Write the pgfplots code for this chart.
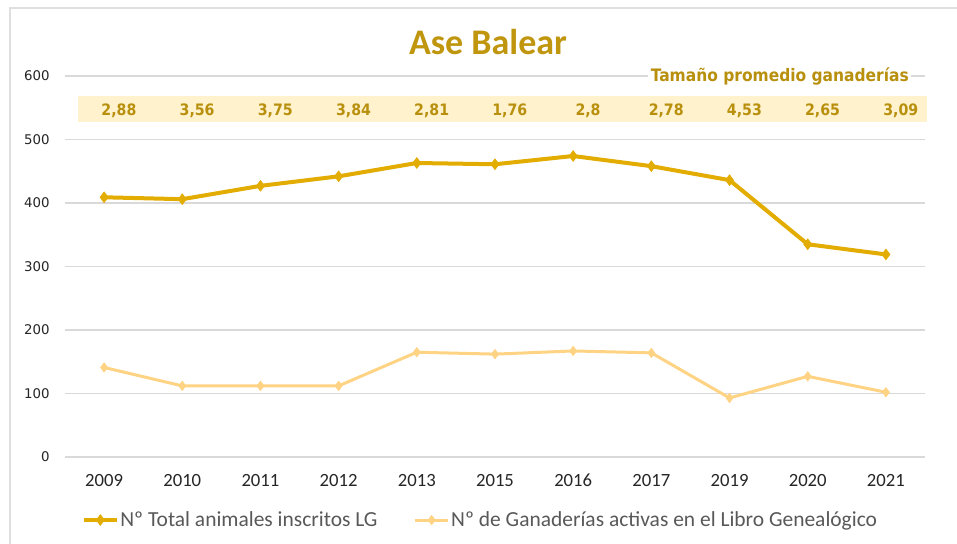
\documentclass[border=0pt]{standalone}
\usepackage{fontspec}
\usepackage{pgfplots}
\pgfplotsset{compat=1.18}
\setmainfont{Carlito}
\newfontfamily\dejavu{DejaVu Sans}
\newfontfamily\condbold{DejaVu Sans Condensed}
\definecolor{titlegold}{HTML}{BF960E}
\definecolor{bandgold}{HTML}{B8900E}
\definecolor{bandfill}{HTML}{FFF2CC}
\definecolor{mainline}{HTML}{E3AC00}
\definecolor{secline}{HTML}{FFD384}
\definecolor{gridc}{HTML}{D9D9D9}
\definecolor{legtext}{HTML}{595959}
\definecolor{ticktext}{HTML}{262626}
\begin{document}
\begin{tikzpicture}
\useasboundingbox (0,0) rectangle (717.75pt,407.25pt);
\fill[white] (0,0) rectangle (717.75pt,407.25pt);
\draw[gray!25, line width=0.8pt] (7.5pt,-5pt) -- (7.5pt,401.25pt) -- (725pt,401.25pt);
\node[font=\fontsize{27}{30}\selectfont\bfseries, text=titlegold] at (366pt,375.75pt) {Ase Balear};
\begin{axis}[
  at={(48.75pt,64.5pt)}, anchor=south west,
  scale only axis, width=645pt, height=285.75pt,
  xmin=-0.5, xmax=10.5, ymin=0, ymax=600,
  clip=false,
  axis line style={draw=none},
  major tick length=0pt,
  ytick={0,100,...,600},
  ymajorgrids, grid style={gridc, line width=0.8pt},
  xtick={0,...,10},
  xticklabels={2009,2010,2011,2012,2013,2015,2016,2017,2019,2020,2021},
  xticklabel style={font=\fontsize{14}{16}\selectfont, text=ticktext, yshift=-9pt, text height=9.5pt, text depth=0pt},
  yticklabel style={font=\dejavu\fontsize{10}{12}\selectfont, text=ticktext, xshift=-8pt},
  /pgf/number format/assume math mode=true,
  legend columns=2,
  legend style={at={(0.4826,-0.1654)}, anchor=center, draw=none, fill=none,
    font=\fontsize{16.1}{18}\selectfont, text=legtext,
    /tikz/every even column/.append style={column sep=26pt},
    nodes={inner sep=1pt}},
  legend image code/.code={\draw[mark repeat=2,mark phase=2,#1] plot coordinates {(0pt,0pt)(12.5pt,0pt)(25pt,0pt)};},
]
\fill[bandfill] (axis cs:-0.33,527) rectangle (axis cs:10.53,568);
\node[anchor=east, fill=white, inner sep=2pt, text=bandgold, font=\condbold\bfseries\fontsize{12.9}{14}\selectfont] at (axis cs:10.33,600) {Tamaño promedio ganaderías};
\addplot[mainline, line width=3pt, mark=diamond*, mark size=4pt, mark options={fill=mainline, draw=mainline, line width=0.5pt}]
  coordinates {(0,409) (1,406) (2,427) (3,442) (4,463) (5,461) (6,474) (7,458) (8,436) (9,335) (10,319)};
\addlegendentry{Nº Total animales inscritos LG}
\addplot[secline, line width=2.25pt, mark=diamond*, mark size=3.5pt, mark options={fill=secline, draw=secline, line width=0.5pt}]
  coordinates {(0,141) (1,112) (2,112) (3,112) (4,165) (5,162) (6,167) (7,164) (8,93) (9,127) (10,102)};
\addlegendentry{Nº de Ganaderías activas en el Libro Genealógico}
\addplot[forget plot, draw=none, mark=none, point meta=explicit symbolic,
  nodes near coords,
  every node near coord/.append style={anchor=center, text=bandgold, font=\condbold\bfseries\fontsize{11.8}{13}\selectfont}]
  table[meta=label] {
x y label
0.19 546 2,88
1.19 546 3,56
2.19 546 3,75
3.19 546 3,84
4.19 546 2,81
5.19 546 1,76
6.19 546 2,8
7.19 546 2,78
8.19 546 4,53
9.19 546 2,65
10.19 546 3,09
};
\end{axis}
\end{tikzpicture}
\end{document}
